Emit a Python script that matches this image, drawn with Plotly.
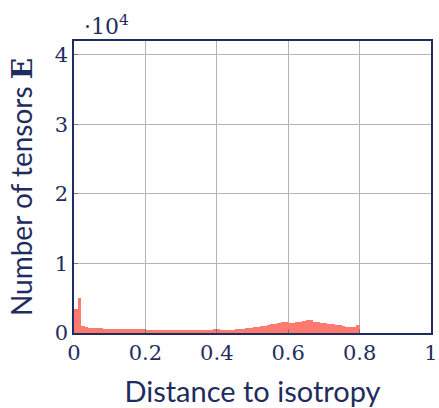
import plotly.graph_objects as go

# Histogram of distance to isotropy, 100 bins of width 0.01 on [0, 1]
bin_width = 0.01
bin_left = [i * bin_width for i in range(100)]
counts = [
    3450, 5000, 1050, 820, 720, 680, 660, 650, 640, 630,
    620, 610, 600, 600, 590, 580, 570, 560, 550, 530,
    480, 470, 460, 470, 480, 460, 450, 440, 430, 420,
    420, 410, 420, 430, 440, 450, 460, 470, 490, 520,
    560, 500, 460, 450, 480, 520, 570, 620, 680, 720,
    800, 880, 950, 1050, 1150, 1250, 1350, 1450, 1600, 1550,
    1500, 1500, 1550, 1600, 1700, 1850, 1800, 1650, 1600, 1500,
    1400, 1300, 1250, 1200, 1150, 1000, 850, 800, 900, 1100,
    0, 0, 0, 0, 0, 0, 0, 0, 0, 0,
    0, 0, 0, 0, 0, 0, 0, 0, 0, 0,
]

x_ticks = [0, 0.2, 0.4, 0.6, 0.8, 1]
x_tick_labels = ["0", "0.2", "0.4", "0.6", "0.8", "1"]
y_ticks = [0, 10000, 20000, 30000, 40000]
y_tick_labels = ["0", "1", "2", "3", "4"]

navy = "#1f2d5e"
bar_color = "#ff7a6e"
grid = "#b4b4b4"
serif = "DejaVu Serif"
sans = "Lato"

fig = go.Figure(
    go.Bar(
        x=[x + bin_width / 2 for x in bin_left],
        y=counts,
        width=bin_width,
        marker=dict(color=bar_color, line=dict(width=0)),
    )
)

axis_common = dict(
    automargin=False,
    showline=True,
    linecolor=navy,
    linewidth=1.5,
    mirror=True,
    showgrid=True,
    gridcolor=grid,
    gridwidth=1,
    zeroline=False,
    ticks="inside",
    ticklen=4,
    tickcolor="#777777",
    tickfont=dict(family=serif, size=21, color=navy),
)

fig.update_layout(
    width=439,
    height=408,
    margin=dict(l=74, r=8, t=41, b=75),
    paper_bgcolor="white",
    plot_bgcolor="white",
    bargap=0,
    showlegend=False,
    xaxis=dict(
        range=[0, 1],
        tickvals=x_ticks,
        ticktext=x_tick_labels,
        title=dict(text="Distance to isotropy", font=dict(family=sans, size=29, color=navy), standoff=19),
        **axis_common,
    ),
    yaxis=dict(
        range=[0, 42000],
        tickvals=y_ticks,
        ticktext=y_tick_labels,
        title=dict(
            text="Number of tensors <span style='font-family:DejaVu Serif'><b>E</b></span>",
            font=dict(family=sans, size=28, color=navy),
            standoff=14,
        ),
        **axis_common,
    ),
    annotations=[
        dict(
            text="·10<sup>4</sup>",
            xref="paper", yref="paper",
            x=0.0, y=1.0,
            xanchor="left", yanchor="bottom",
            showarrow=False,
            xshift=8, yshift=0,
            font=dict(family=serif, size=22, color=navy),
        )
    ],
)

fig.write_html("out.html")
